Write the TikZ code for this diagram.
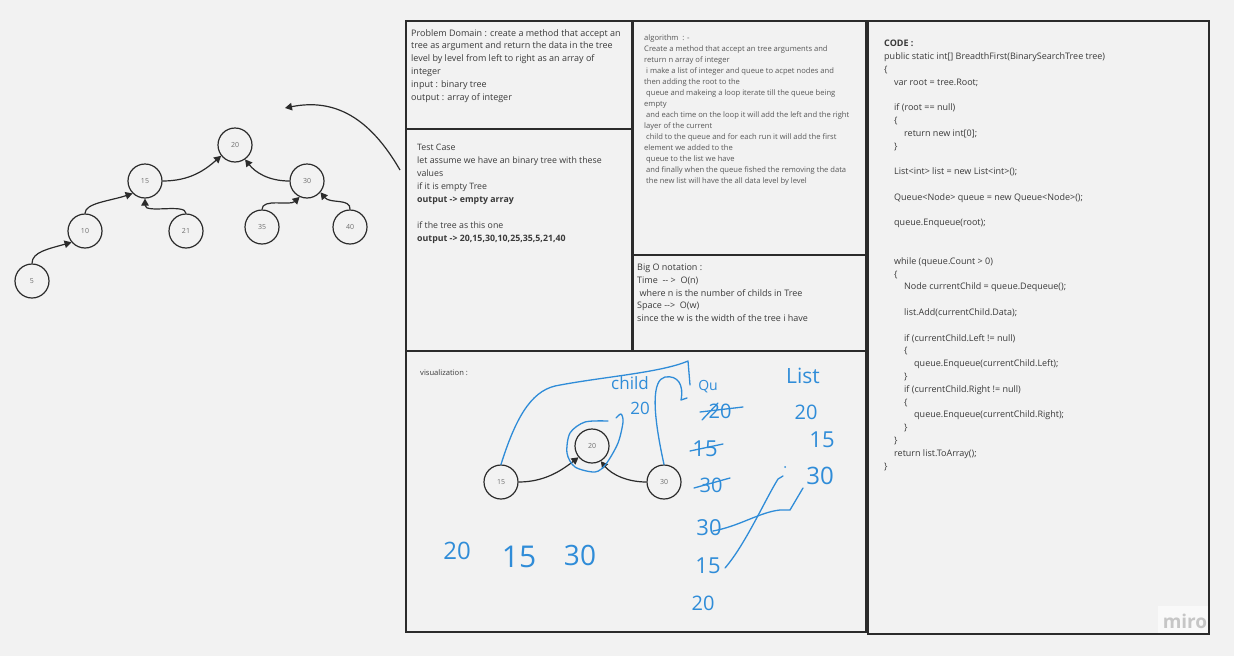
\documentclass[tikz,border=0pt]{standalone}
\usepackage{fontspec}
\setmainfont{Open Sans}
\usetikzlibrary{arrows.meta}
\definecolor{bg}{HTML}{F2F2F2}
\definecolor{frame}{HTML}{2B2B2B}
\definecolor{txt}{HTML}{3A3A3A}
\definecolor{lbl}{HTML}{6E6E6E}
\definecolor{ink}{HTML}{2F8CD8}
\definecolor{miroc}{HTML}{C6C6C6}
\begin{document}
\begin{tikzpicture}[x=1pt,y=-1pt,
  panel/.style={draw=frame, line width=1.6pt, fill=bg},
  bnode/.style={circle, draw=frame, line width=1.2pt, minimum size=34pt, inner sep=0pt, font=\fontsize{7}{8}\selectfont, text=lbl},
  link/.style={draw=frame, line width=1.2pt, -{Triangle[length=7pt,width=7.5pt]}},
  block/.style={anchor=north west, align=left, inner sep=0pt, text=txt},
  hand/.style={text=ink, inner sep=0pt},
  pen/.style={draw=ink, line width=1.3pt, line cap=round, line join=round}]
\fill[bg] (0,0) rectangle (1234,656);
\useasboundingbox (0,0) rectangle (1234,656);

% panels
\draw[panel] (406,21) rectangle (632,129);
\draw[panel] (406,129) rectangle (632,351);
\draw[panel] (633,21) rectangle (866,255);
\draw[panel] (633,255) rectangle (866,351);
\draw[panel] (406,351) rectangle (866,632);
\draw[panel] (868,21) rectangle (1209,634);

% texts
\node[block, font=\fontsize{9}{12.8}\selectfont] (pd) at (411,29) {Problem Domain : create a method that accept an\\tree as argument and return the data in the tree\\level by level from left to right as an array of\\integer\\input : binary tree\\output : array of integer};

\node[block, font=\fontsize{8.8}{13}\selectfont] (tc) at (417,144) {Test Case\\let assume we have an binary tree with these\\values\\if it is empty Tree\\\textbf{output -> empty array}\\[13pt]if the tree as this one\\\textbf{output -> 20,15,30,10,25,35,5,21,40}};

\node[block, font=\fontsize{7.6}{11}\selectfont, text=txt!85] (al) at (644,35) {algorithm\ \ : -\\Create a method that accept an tree arguments and\\return n array of integer\\\ i make a list of integer and queue to acpet nodes and\\then adding the root to the\\\ queue and makeing a loop iterate till the queue being\\empty\\\ and each time on the loop it will add the left and the right\\layer of the current\\\ child to the queue and for each run it will add the first\\element we added to the\\\ queue to the list we have\\\ and finally when the queue fished the removing the data\\\ the new list will have the all data level by level};

\node[block, font=\fontsize{9}{12.7}\selectfont] (bo) at (637,264) {Big O notation :\\Time\ \ -{}- >\ \ O(n)\\\ where n is the number of childs in Tree\\Space -{}->\ \ O(w)\\since the w is the width of the tree i have};

\node[block, font=\fontsize{9}{12.8}\selectfont] (cd) at (884,40) {\textbf{CODE :}\\
public static int[] BreadthFirst(BinarySearchTree tree)\\
\{\\
\hspace*{10pt}var root = tree.Root;\\[12.8pt]
\hspace*{10pt}if (root == null)\\
\hspace*{10pt}\{\\
\hspace*{20pt}return new int[0];\\
\hspace*{10pt}\}\\[12.8pt]
\hspace*{10pt}List<int> list = new List<int>();\\[12.8pt]
\hspace*{10pt}Queue<Node> queue = new Queue<Node>();\\[12.8pt]
\hspace*{10pt}queue.Enqueue(root);\\[25.6pt]
\hspace*{10pt}while (queue.Count > 0)\\
\hspace*{10pt}\{\\
\hspace*{20pt}Node currentChild = queue.Dequeue();\\[12.8pt]
\hspace*{20pt}list.Add(currentChild.Data);\\[12.8pt]
\hspace*{20pt}if (currentChild.Left != null)\\
\hspace*{20pt}\{\\
\hspace*{30pt}queue.Enqueue(currentChild.Left);\\
\hspace*{20pt}\}\\
\hspace*{20pt}if (currentChild.Right != null)\\
\hspace*{20pt}\{\\
\hspace*{30pt}queue.Enqueue(currentChild.Right);\\
\hspace*{20pt}\}\\
\hspace*{10pt}\}\\
\hspace*{10pt}return list.ToArray();\\
\}};

\node[block, font=\fontsize{7.6}{9}\selectfont] (vz) at (420,370) {visualization :};

% left tree
\node[bnode] (t20) at (235,145) {20};
\node[bnode] (t15) at (145,181) {15};
\node[bnode] (t30) at (307,181) {30};
\node[bnode] (t10) at (85,231) {10};
\node[bnode] (t21) at (186,231) {21};
\node[bnode] (t35) at (262,227) {35};
\node[bnode] (t40) at (350,227) {40};
\node[bnode] (t5) at (32,281) {5};

\draw[link] (t5.north) .. controls (32,252) and (48,249) .. (t10.220);
\draw[link] (t10.north) .. controls (85,203) and (110,201) .. (t15.225);
\draw[link] (t21.north) .. controls (186,203) and (145,214) .. (t15.south);
\draw[link] (t15.east) .. controls (190,181) and (205,170) .. (t20.218);
\draw[link] (t30.west) .. controls (268,181) and (255,172) .. (t20.-55);
\draw[link] (t35.north) .. controls (262,198) and (290,206) .. (t30.245);
\draw[link] (t40.north) .. controls (351,198) and (330,204) .. (t30.-40);

\coordinate (fa) at (400,170);
\coordinate (fb) at (285,108);
\draw[link] (fa) .. controls (370,118) and (335,98) .. (fb);

% visualization tree
\node[bnode] (v20) at (592,446) {20};
\node[bnode] (v15) at (501,482) {15};
\node[bnode] (v30) at (664,482) {30};
\draw[link] (v15.east) .. controls (545,482) and (562,470) .. (v20.220);
\draw[link] (v30.west) .. controls (628,482) and (612,475) .. (v20.-60);

% handwriting strokes
\draw[pen] (v15.north) .. controls (515,420) and (530,392) .. (555,386) .. controls (600,377) and (660,373) .. (688,361) -- (690,385);
\draw[pen] plot[smooth] coordinates {(608,421) (585,422) (570,433) (567,453) (575,467) (595,472) (606,464) (618,443) (623,422) (621,414) (616,418)};
\draw[pen] (v30.north) .. controls (652,410) and (652,380) .. (665,377) .. controls (678,375) and (684,385) .. (681,400) -- (687,398);
\draw[pen] (713,531) .. controls (740,526) and (760,512) .. (780,510) -- (790,510) -- (803,488);
\draw[pen] (725,568) .. controls (745,545) and (765,500) .. (778,479) -- (783,476);
\draw[pen] (700,412) -- (743,407);
\draw[pen] (702,420) -- (718,403);
\draw[pen] (690,451) -- (723,444);
\draw[pen] (694,488) -- (730,478);
\fill[ink] (785,467) circle (1pt);

% handwriting text
\node[hand, font=\fontsize{17}{17}\selectfont] (hchild) at (630,383) {child};
\node[hand, font=\fontsize{14}{14}\selectfont] (hqu) at (708,387) {Qu};
\node[hand, font=\fontsize{21}{21}\selectfont] (hlist) at (803,376) {List};
\node[hand, font=\fontsize{17}{17}\selectfont] (hc20) at (640,408) {20};
\node[hand, font=\fontsize{20}{20}\selectfont] (hq1) at (720,411) {20};
\node[hand, font=\fontsize{22}{22}\selectfont] (hq2) at (705,449) {15};
\node[hand, font=\fontsize{20}{20}\selectfont] (hq3) at (711,485) {30};
\node[hand, font=\fontsize{22}{22}\selectfont] (hs1) at (709,528) {30};
\node[hand, font=\fontsize{22}{22}\selectfont] (hs2) at (708,566) {15};
\node[hand, font=\fontsize{20}{20}\selectfont] (hs3) at (703,603) {20};
\node[hand, font=\fontsize{20}{20}\selectfont] (hl1) at (806,412) {20};
\node[hand, font=\fontsize{22}{22}\selectfont] (hl2) at (822,440) {15};
\node[hand, font=\fontsize{24}{24}\selectfont] (hl3) at (820,476) {30};
\node[hand, font=\fontsize{24}{24}\selectfont] (hb1) at (457,551) {20};
\node[hand, font=\fontsize{30}{30}\selectfont] (hb2) at (519,557) {15};
\node[hand, font=\fontsize{28}{28}\selectfont] (hb3) at (580,555) {30};

% miro logo
\fill[white!50!bg] (1158,606) rectangle (1208,633);
\node[font=\bfseries\fontsize{19}{19}\selectfont, text=miroc, inner sep=0pt] (miro) at (1185,621) {miro};
\end{tikzpicture}
\end{document}
